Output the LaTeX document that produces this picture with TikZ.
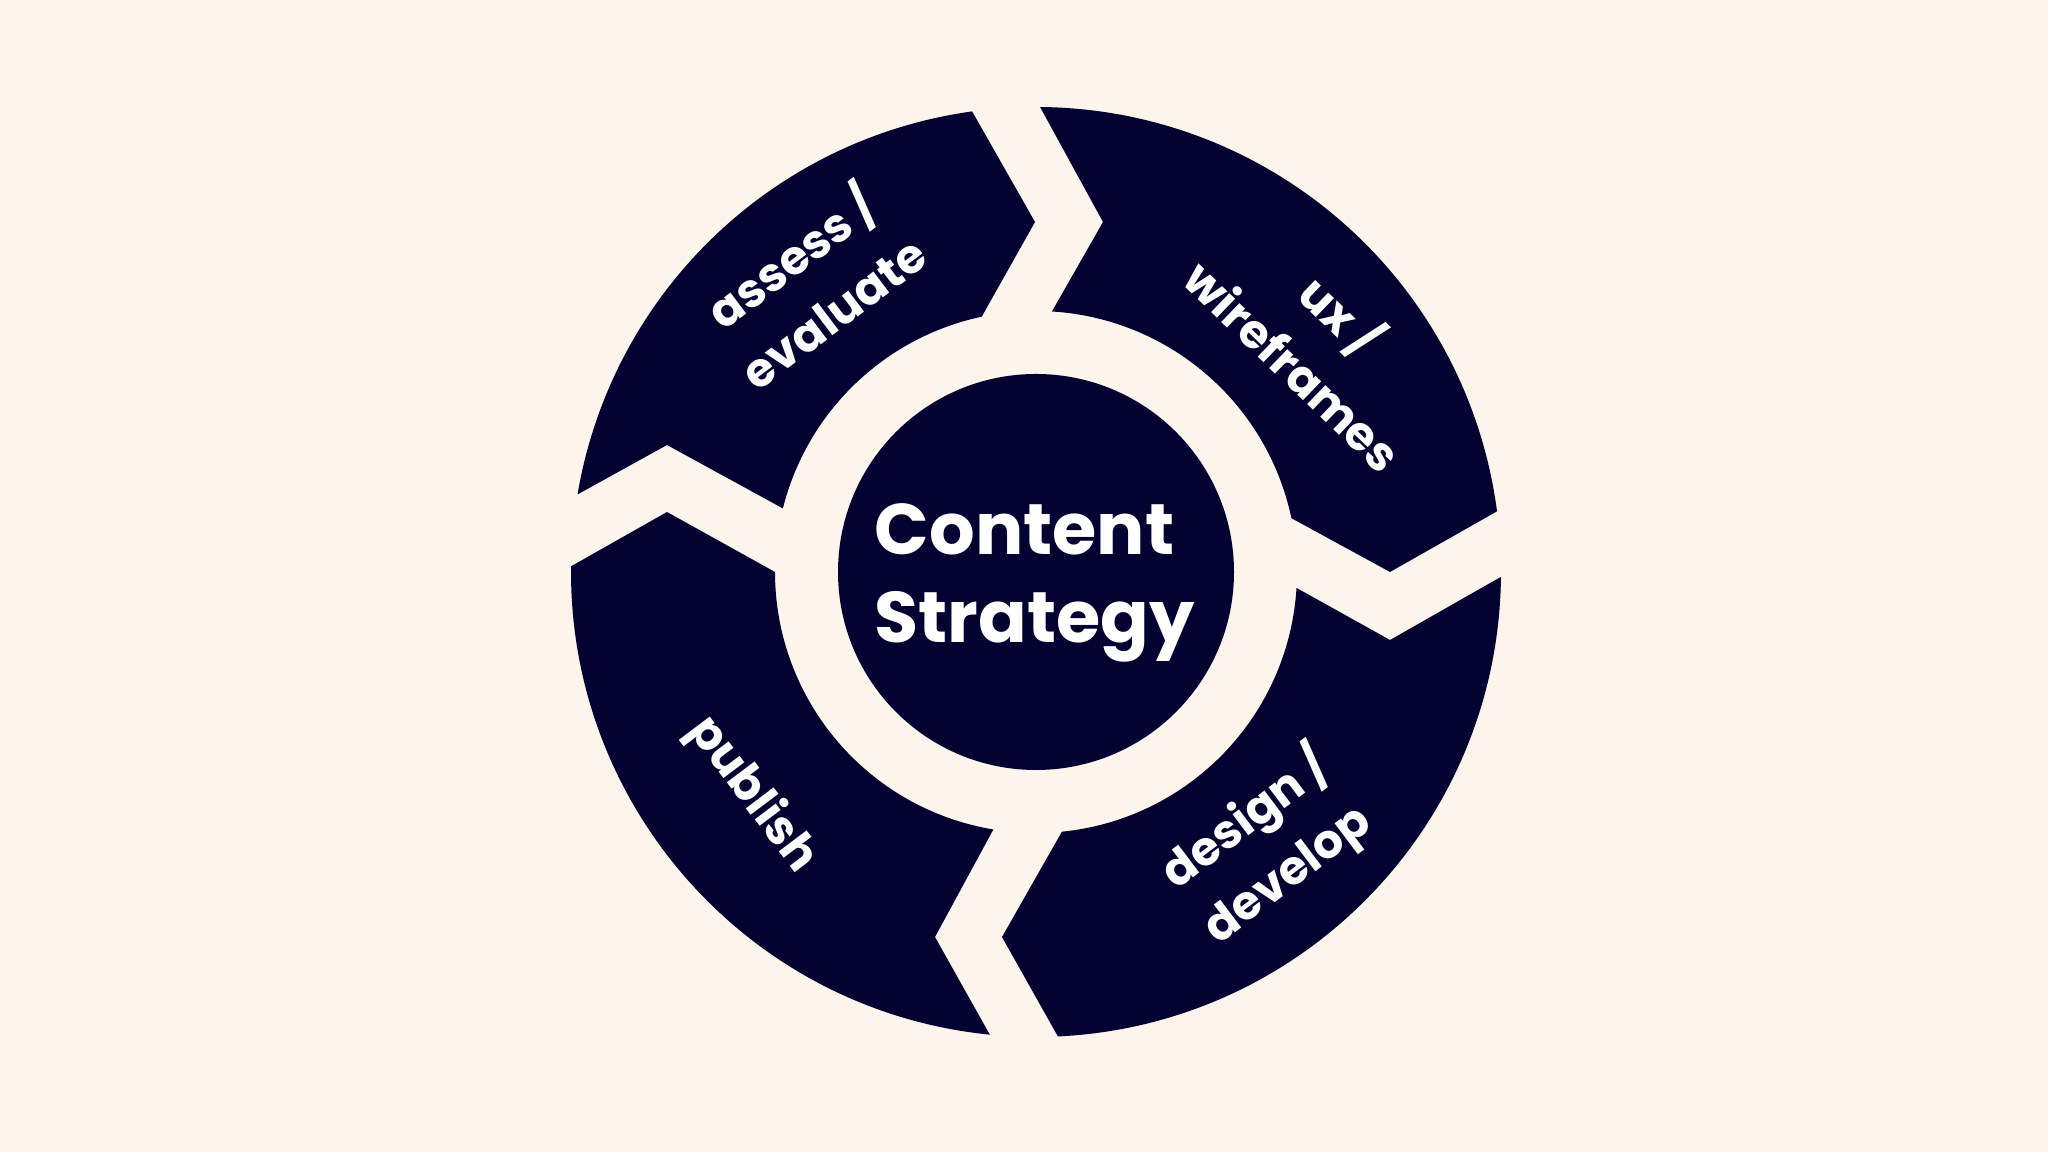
\documentclass[tikz,border=0pt]{standalone}
\usepackage{fontspec}
\setmainfont{Poppins}
\usetikzlibrary{calc}
\definecolor{bgc}{RGB}{253,244,235}
\definecolor{navy}{RGB}{4,2,48}
\newcommand\cssegment[6]{% start-outer, start-inner, end-inner, end-outer angles, notch, tip
  \fill[seg] ($(C)+(#1:\RO)$) -- #5 -- ($(C)+(#2:\RI)$)
    arc[start angle=#2,end angle=#3,radius=\RI] -- #6 -- ($(C)+(#4:\RO)$)
    arc[start angle=#4,end angle=#1,radius=\RO] -- cycle;}
\begin{document}
\begin{tikzpicture}[x=0.01cm,y=0.01cm,
  seg/.style={fill=navy},
  lbl/.style={text=white,font=\fontsize{13.4}{19.6}\selectfont\bfseries,align=center,inner sep=0pt},
  ttl/.style={text=white,font=\fontsize{20.4}{25}\selectfont\bfseries,inner sep=0pt,anchor=base west}]
\fill[bgc] (0,0) rectangle (2048,1152);
\useasboundingbox (0,0) rectangle (2048,1152);
\coordinate (C) at (1036,580);
\def\RO{465}\def\RI{261}
% assess / evaluate
\cssegment{170.4}{165.9}{102}{97.9}{(667,707)}{(1035,930)}
% ux / wireframes
\cssegment{89.5}{86.5}{11.9}{7.5}{(1103,930)}{(1390,580)}
% design / develop
\cssegment{-0.6}{-3.5}{-84.3}{-87.3}{(1390,512)}{(1002,215)}
% publish
\cssegment{264.3}{260.6}{180}{179.3}{(935,215)}{(667,640)}
% centre
\fill[navy] (C) circle[radius=198];
\node[ttl] (content) at (874,597) {Content};
\node[ttl] (strategy) at (874,509) {Strategy};
\node[lbl,rotate=37] (assess) at (810,870) {assess /\\evaluate};
\node[lbl,rotate=-44] (ux) at (1320,814) {ux /\\wireframes};
\node[lbl,rotate=37] (design) at (1266,306) {design /\\develop};
\node[lbl,rotate=-53] (publish) at (752,357) {publish};
\end{tikzpicture}
\end{document}
